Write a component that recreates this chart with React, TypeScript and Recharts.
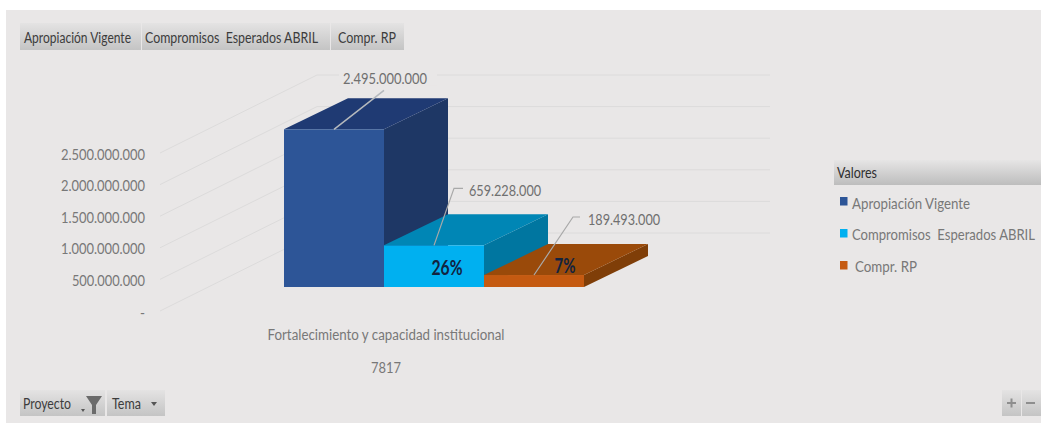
import React from "react";
import { BarChart, Bar, XAxis, YAxis, CartesianGrid, Legend, LabelList } from "recharts";

const categories = ["Fortalecimiento y capacidad institucional"];
const categoryCodes = ["7817"];
const seriesNames = ["Apropiación Vigente", "Compromisos  Esperados ABRIL", "Compr. RP"];
const apropiacion = [2495000000];
const compromisos = [659228000];
const comprRp = [189493000];
const percentLabels = { compromisos: "26%", comprRp: "7%" };
const yTicks = [0, 500000000, 1000000000, 1500000000, 2000000000, 2500000000];
const topButtons = seriesNames;

const rows = categories.map((c, i) => ({
  category: c,
  code: categoryCodes[i],
  apropiacion: apropiacion[i],
  compromisos: compromisos[i],
  comprRp: comprRp[i],
}));

const FONT = "Lato, 'Open Sans', sans-serif";
const PANEL = "#E9E7E7";
const TEXT = "#707070";
const DEPTH_X = 64;
const DEPTH_Y = 31;
const FLOOR_LIFT = 24;

const fmt = (v: number) => String(v).replace(/\B(?=(\d{3})+(?!\d))/g, ".");
const numWidth = (s: string) => s.replace(/\D/g, "").length * 7.3 + s.replace(/\d/g, "").length * 3.7;

function T({ x, y, w, size = 16, fill = TEXT, weight = 400, anchor = "start", children }: any) {
  return (
    <text
      x={x}
      y={y}
      textLength={w}
      lengthAdjust="spacingAndGlyphs"
      xmlSpace="preserve"
      fontFamily={FONT}
      fontSize={size}
      fontWeight={weight}
      fill={fill}
      textAnchor={anchor}
      dominantBaseline="central"
    >
      {children}
    </text>
  );
}

const box3d = (front: string, top: string, side: string) => (p: any) => {
  const x = p.x;
  const w = p.width;
  const y = p.y - FLOOR_LIFT;
  const b = y + p.height;
  return (
    <g>
      <polygon
        points={`${x + w},${y} ${x + w + DEPTH_X},${y - DEPTH_Y} ${x + w + DEPTH_X},${b - DEPTH_Y} ${x + w},${b}`}
        fill={side}
      />
      <polygon
        points={`${x},${y} ${x + DEPTH_X},${y - DEPTH_Y} ${x + w + DEPTH_X},${y - DEPTH_Y} ${x + w},${y}`}
        fill={top}
      />
      <rect x={x} y={y} width={w} height={p.height} fill={front} />
    </g>
  );
};

const topLabel = (p: any) => {
  const s = fmt(p.value);
  const x = p.x + 50;
  const y = p.y - FLOOR_LIFT;
  return (
    <g>
      <rect x={x + 5} y={y - 60} width={98} height={16} fill={PANEL} />
      <polyline points={`${x},${y} ${x + 50},${y - 39}`} fill="none" stroke="#B5B9BD" strokeWidth={1.5} />
      <T x={x + 9} y={y - 52} w={numWidth(s)}>{s}</T>
    </g>
  );
};

const sideLabel = (pct: string, riseTo: number, dx: number, hx: number, tx: number) => (p: any) => {
  const s = fmt(p.value);
  const x = p.x + 50;
  const y = p.y - FLOOR_LIFT;
  return (
    <g>
      <polyline points={`${x},${y} ${x + dx},${y - riseTo} ${x + hx},${y - riseTo}`} fill="none" stroke="#A9A9A9" strokeWidth={1.2} />
      <T x={x + tx} y={y - riseTo + 1} w={numWidth(s) - 1}>{s}</T>
      <T x={x + (pct === "7%" ? 31 : 13)} y={pct === "7%" ? y - 10 : y + 22} w={pct === "7%" ? 21 : 31} size={20} weight={700} fill="#12233F" anchor="middle">{pct}</T>
    </g>
  );
};

const gridLine = (p: any) => {
  const knee = p.x1 + 157;
  const kneeY = p.y1 - 78;
  return (
    <polyline
      key={p.key ?? p.y1}
      points={`${p.x1},${p.y1} ${knee},${kneeY} 770,${kneeY}`}
      fill="none"
      stroke="#DCDBDB"
      strokeWidth={1}
    />
  );
};

const yTick = (p: any) => {
  const v = p.payload.value;
  const s = v === 0 ? "-" : fmt(v);
  return (
    <T x={145} y={p.y} w={v === 0 ? 5 : numWidth(s)} anchor="end" fill="#787878">
      {s}
    </T>
  );
};

const xTick = (p: any) => {
  const row = rows[p.index ?? 0];
  return (
    <g>
      <T x={p.x - 48} y={334} w={237} anchor="middle" size={15.5} fill="#787878">{p.payload.value}</T>
      <T x={p.x - 48} y={367} w={30} anchor="middle" size={15.5} fill="#787878">{row.code}</T>
    </g>
  );
};

const legendWidths = [118, 183, 62];

const legendContent = (props: any) => {
  const items = props.payload ?? [];
  return (
    <svg width={207} height={125} style={{ display: "block" }}>
      <defs>
        <linearGradient id="legHead" x1="0" y1="0" x2="0" y2="1">
          <stop offset="0" stopColor="#E6E5E5" />
          <stop offset="1" stopColor="#BDBDBD" />
        </linearGradient>
      </defs>
      <rect x={0} y={0} width={207} height={25} fill="url(#legHead)" />
      <T x={3} y={12} w={40} size={15} fill="#2F2F2F">Valores</T>
      {items.map((it: any, i: number) => {
        const k = seriesNames.indexOf(it.value);
        return (
          <g key={it.value}>
            <rect x={6} y={37 + k * 32} width={7.5} height={8.5} fill={it.color} />
            <T x={k === 2 ? 21 : 18} y={42 + k * 31.5} w={legendWidths[k]} fill="#787878">{it.value}</T>
          </g>
        );
      })}
    </svg>
  );
};

function Button({ x, y, w, h, id = "btn" }: any) {
  return <rect x={x} y={y} width={w} height={h} fill={`url(#${id})`} />;
}

export default function App() {
  return (
    <div style={{ position: "absolute", left: 0, top: 0, width: 1041, height: 423, background: "#fff", overflow: "hidden" }}>
      <svg width={1041} height={423} style={{ position: "absolute", left: 0, top: 0 }}>
        <defs>
          <linearGradient id="btn" x1="0" y1="0" x2="0" y2="1">
            <stop offset="0" stopColor="#E4E3E3" />
            <stop offset="1" stopColor="#C4C4C4" />
          </linearGradient>
        </defs>
        <rect x={6} y={10} width={1035} height={413} fill={PANEL} />
        <Button x={20} y={23} w={121} h={27} />
        <Button x={142} y={23} w={188} h={27} />
        <Button x={331} y={23} w={73} h={27} />
        <T x={24} y={37} w={107} fill="#3C3C3C" size={15.5}>{topButtons[0]}</T>
        <T x={145} y={37} w={173} fill="#3C3C3C" size={15.5}>{topButtons[1]}</T>
        <T x={338} y={37} w={58} fill="#3C3C3C" size={15.5}>{topButtons[2]}</T>

        <Button x={20} y={390} w={85} h={26} />
        <Button x={107} y={390} w={58} h={26} />
        <T x={23} y={403} w={48} fill="#3C3C3C" size={15.5}>Proyecto</T>
        <polygon points="86,396 102,396 96,405 96,414 92,414 92,405" fill="#6B6B6B" />
        <polygon points="81,409 85,409 83,412" fill="#555" />
        <T x={112} y={403} w={29} fill="#3C3C3C" size={15.5}>Tema</T>
        <polygon points="151,402 157,402 154,406" fill="#555" />

        <Button x={1002} y={390} w={19} h={26} />
        <Button x={1022} y={390} w={19} h={26} />
        <path d="M1007 403h9M1011.500 398.500v9M1026 403h9" stroke="#8E8E8E" strokeWidth={2} fill="none" />
      </svg>
      <div style={{ position: "absolute", left: 0, top: 0 }}>
        <BarChart
          width={1041}
          height={423}
          data={rows}
          barSize={100}
          barGap={0}
          margin={{ top: 153, right: 333, bottom: 82, left: 0 }}
        >
          <CartesianGrid vertical={false} horizontal={gridLine as any} />
          <XAxis dataKey="category" height={30} axisLine={false} tickLine={false} tick={xTick as any} interval={0} />
          <YAxis
            width={160}
            domain={[0, 2500000000]}
            ticks={yTicks}
            axisLine={false}
            tickLine={false}
            tick={yTick as any}
          />
          <Legend
            layout="horizontal"
            verticalAlign="middle"
            align="center"
            content={legendContent as any}
            wrapperStyle={{ position: "absolute", left: 834, top: 160, width: 207, height: 125 }}
          />
          <Bar dataKey="apropiacion" name={seriesNames[0]} fill="#2D5597" isAnimationActive={false} shape={box3d("#2D5597", "#1F3A73", "#1E3765") as any}>
            <LabelList dataKey="apropiacion" content={topLabel as any} />
          </Bar>
          <Bar dataKey="compromisos" name={seriesNames[1]} fill="#00B0F0" isAnimationActive={false} shape={box3d("#00B0F0", "#0086B5", "#0076A0") as any}>
            <LabelList dataKey="compromisos" content={sideLabel(percentLabels.compromisos, 57, 20, 29, 35) as any} />
          </Bar>
          <Bar dataKey="comprRp" name={seriesNames[2]} fill="#C55A11" isAnimationActive={false} shape={box3d("#C55A11", "#9A4A0A", "#7F3E08") as any}>
            <LabelList dataKey="comprRp" content={sideLabel(percentLabels.comprRp, 58, 39, 46, 54) as any} />
          </Bar>
        </BarChart>
      </div>
    </div>
  );
}
